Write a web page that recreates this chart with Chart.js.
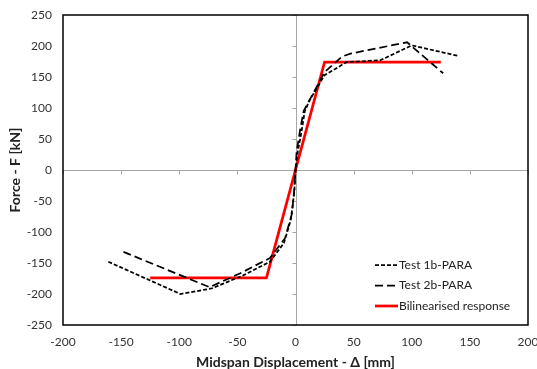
<!DOCTYPE html>
<html>
<head>
<meta charset="utf-8">
<script src="https://cdn.jsdelivr.net/npm/chart.js@4.4.1/dist/chart.umd.min.js"></script>
<style>
html,body{margin:0;padding:0;background:#fff;}
#wrap{width:537px;height:369px;position:relative;}
</style>
</head>
<body>
<div id="wrap"><canvas id="c" width="537" height="369"></canvas></div>
<script>
// ---- data ----
const test1bX = [-161, -99, -72, -45, -22, -10, -4, -1, 0, 2, 5, 8, 12, 25, 44, 73, 100, 140];
const test1bY = [-148, -200, -191, -170, -148, -118, -80, -35, 0, 30, 60, 95, 112, 153, 174, 177, 201, 184];
const test2bX = [-148, -74, -48, -22, -9, -3, -1, 0, 1, 4, 7, 13, 25, 40, 48, 96, 127];
const test2bY = [-132, -189, -167, -142, -110, -70, -30, 0, 30, 65, 95, 116, 158, 183, 188, 206, 156];
const bilinX = [-125, -25, 25, 125];
const bilinY = [-174, -174, 174, 174];
const seriesNames = ['Test 1b-PARA', 'Test 2b-PARA', 'Bilinearised response'];
const xTicks = [-200, -150, -100, -50, 0, 50, 100, 150, 200];
const yTicks = [-250, -200, -150, -100, -50, 0, 50, 100, 150, 200, 250];
const xTitle = 'Midspan Displacement - \u0394 [mm]';
const yTitle = 'Force - F [kN]';

const pts = (xs, ys) => xs.map((x, i) => ({x: x, y: ys[i]}));
const FONT = 'Lato, "Liberation Sans", sans-serif';

const framePlugin = {
  id: 'frame',
  beforeDatasetsDraw(chart) {
    const {ctx, chartArea: a, scales: {x, y}} = chart;
    ctx.save();
    ctx.strokeStyle = '#a6a6a6';
    ctx.lineWidth = 1;
    const x0 = Math.round(x.getPixelForValue(0)) + 0.5;
    const y0 = Math.round(y.getPixelForValue(0)) + 0.5;
    ctx.beginPath();
    ctx.moveTo(x0, a.top); ctx.lineTo(x0, a.bottom);
    ctx.moveTo(a.left, y0); ctx.lineTo(a.right, y0);
    xTicks.forEach(v => { const px = Math.round(x.getPixelForValue(v)) + 0.5; ctx.moveTo(px, y0); ctx.lineTo(px, y0 + 4); });
    yTicks.forEach(v => { const py = Math.round(y.getPixelForValue(v)) + 0.5; ctx.moveTo(x0 - 4, py); ctx.lineTo(x0, py); });
    ctx.stroke();
    ctx.restore();
  },
  afterDatasetsDraw(chart) {
    const {ctx, chartArea: a} = chart;
    ctx.save();
    ctx.strokeStyle = '#000';
    ctx.lineWidth = 1.5;
    ctx.strokeRect(a.left, a.top, a.right - a.left, a.bottom - a.top);
    const ds = chart.data.datasets;
    const lx = 375, ly = 265, gap = 20.5;
    ctx.font = '12px ' + FONT;
    ctx.textBaseline = 'middle';
    ctx.fillStyle = '#222';
    ds.forEach((d, i) => {
      const yy = ly + i * gap;
      ctx.beginPath();
      ctx.strokeStyle = d.borderColor;
      ctx.lineWidth = d.borderWidth;
      ctx.setLineDash(d.borderDash || []);
      ctx.moveTo(lx, yy); ctx.lineTo(lx + 23, yy);
      ctx.stroke();
      ctx.setLineDash([]);
      ctx.fillText(d.label, lx + 24, yy);
    });
    ctx.restore();
  }
};

new Chart(document.getElementById('c'), {
  type: 'scatter',
  data: {
    datasets: [
      {label: seriesNames[0], data: pts(test1bX, test1bY), showLine: true, borderColor: '#000', borderWidth: 1.75, borderDash: [4, 2], pointRadius: 0, tension: 0},
      {label: seriesNames[1], data: pts(test2bX, test2bY), showLine: true, borderColor: '#000', borderWidth: 1.75, borderDash: [8, 4], pointRadius: 0, tension: 0},
      {label: seriesNames[2], data: pts(bilinX, bilinY), showLine: true, borderColor: '#ff0000', borderWidth: 2.75, pointRadius: 0, tension: 0}
    ]
  },
  options: {
    responsive: false,
    animation: false,
    layout: {padding: {left: 0, right: 9, top: 15, bottom: 0}},
    plugins: {legend: {display: false}, tooltip: {enabled: false}},
    scales: {
      x: {
        type: 'linear', min: -200, max: 200,
        afterBuildTicks: s => { s.ticks = xTicks.map(v => ({value: v})); },
        afterFit: s => { s.height = 44; s.paddingLeft = 0; s.paddingRight = 0; },
        grid: {display: false, drawTicks: false},
        border: {display: false},
        ticks: {padding: 10, color: '#333', font: {family: FONT, size: 12}, maxRotation: 0},
        title: {display: true, text: xTitle, color: '#222', font: {family: FONT, size: 14, weight: 'bold', lineHeight: 1}, padding: {top: 0, bottom: 0}}
      },
      y: {
        type: 'linear', min: -250, max: 250,
        afterBuildTicks: s => { s.ticks = yTicks.map(v => ({value: v})); },
        afterFit: s => { s.width = 63; s.paddingTop = 0; s.paddingBottom = 0; },
        grid: {display: false, drawTicks: false},
        border: {display: false},
        ticks: {padding: 11, color: '#333', font: {family: FONT, size: 12}},
        title: {display: true, text: yTitle, color: '#222', font: {family: FONT, size: 14, weight: 'bold', lineHeight: 1}, padding: {top: 8, bottom: 0}}
      }
    }
  },
  plugins: [framePlugin]
});
</script>
</body>
</html>
